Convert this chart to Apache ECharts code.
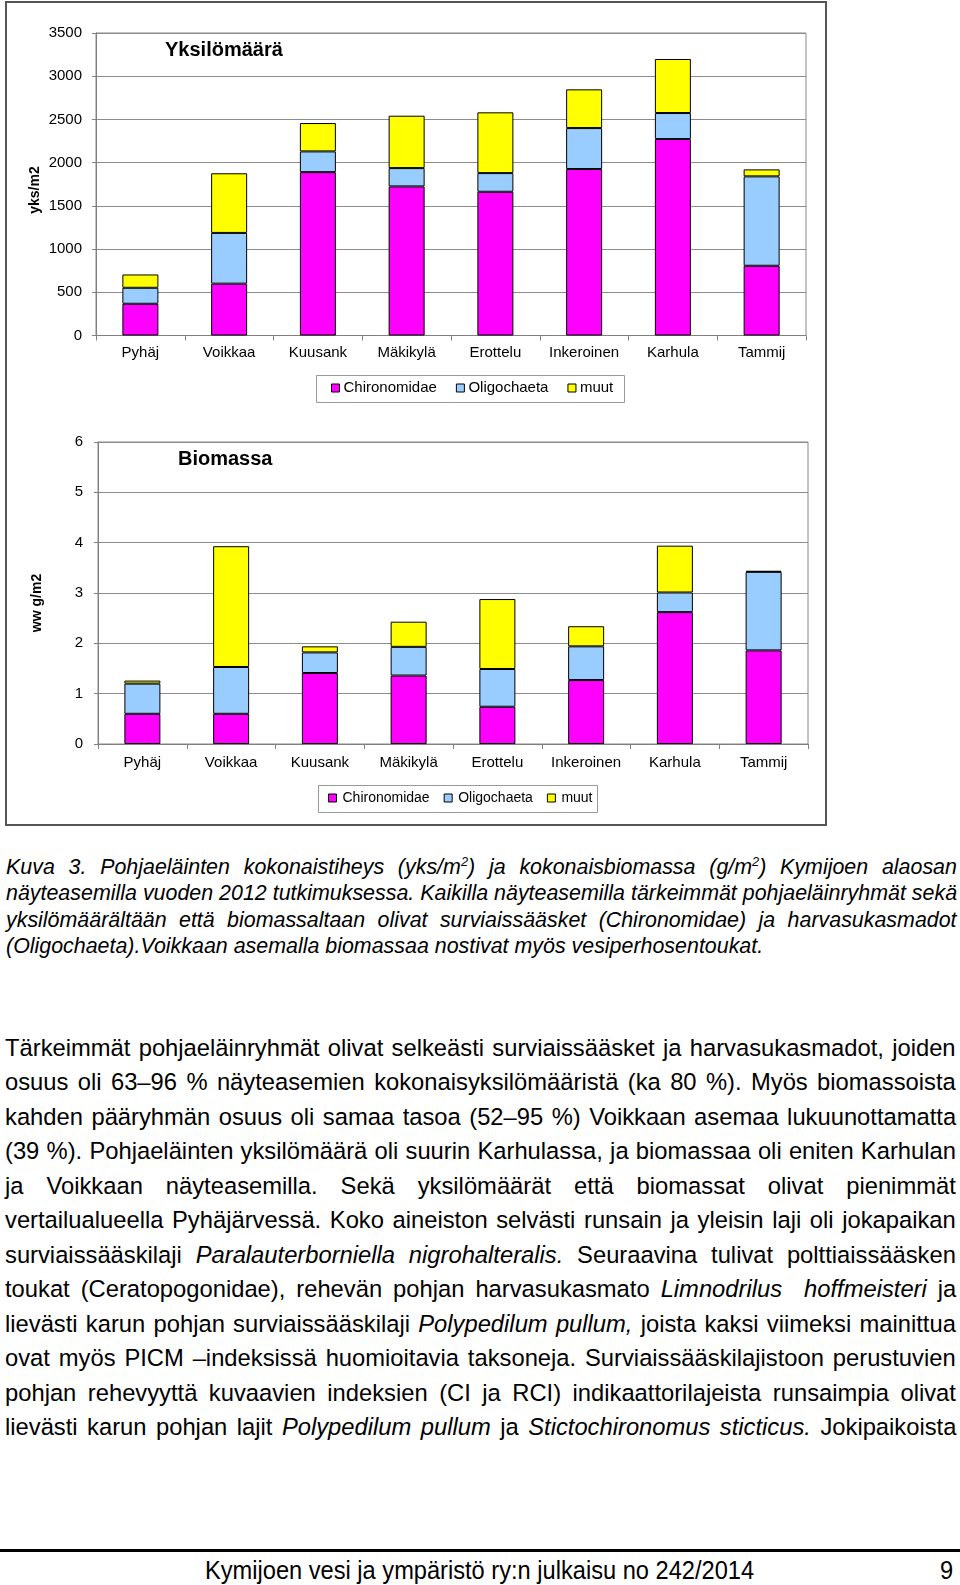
<!DOCTYPE html>
<html><head><meta charset="utf-8">
<script src="https://cdn.jsdelivr.net/npm/echarts@6/dist/echarts.min.js"></script>
<style>
html,body{margin:0;padding:0;background:#fff;width:960px;height:1585px;overflow:hidden;position:relative;}
#chart{position:absolute;left:0;top:0;width:960px;height:830px;}
.cap{position:absolute;left:6px;font-family:'Liberation Sans',Arial,sans-serif;font-style:italic;color:#000;white-space:nowrap;transform-origin:0 50%;}
.body{position:absolute;left:5px;font-family:'Liberation Sans',Arial,sans-serif;color:#000;white-space:nowrap;}
.foot{position:absolute;font-family:'Liberation Sans',Arial,sans-serif;color:#000;white-space:nowrap;transform-origin:0 50%;}
sup{font-size:0.6em;vertical-align:super;line-height:0;}
</style></head><body>
<div id="chart"></div>
<script>
// ---- data ----
const categories = ['Pyhäj','Voikkaa','Kuusank','Mäkikylä','Erottelu','Inkeroinen','Karhula','Tammij'];
const seriesNames = ['Chironomidae','Oligochaeta','muut'];
const countChiro = [367, 600, 1890, 1725, 1663, 1926, 2273, 807];
const countOligo = [185, 587, 240, 212, 216, 474, 301, 1034];
const countMuut  = [154, 690, 328, 606, 703, 448, 625, 81];
const bioChiro = [0.60, 0.60, 1.41, 1.36, 0.74, 1.27, 2.62, 1.86];
const bioOligo = [0.60, 0.93, 0.41, 0.57, 0.75, 0.67, 0.39, 1.56];
const bioMuut  = [0.06, 2.40, 0.12, 0.50, 1.39, 0.40, 0.93, 0.02];
const titles = ['Yksilömäärä','Biomassa'];
const yNames = ['yks/m2','ww g/m2'];

const captionLines = [
 'Kuva 3. Pohjaeläinten kokonaistiheys (yks/m<sup>2</sup>) ja kokonaisbiomassa (g/m<sup>2</sup>) Kymijoen alaosan',
 'näyteasemilla vuoden 2012 tutkimuksessa. Kaikilla näyteasemilla tärkeimmät pohjaeläinryhmät sekä',
 'yksilömäärältään että biomassaltaan olivat surviaissääsket (Chironomidae) ja harvasukasmadot',
 '(Oligochaeta).Voikkaan asemalla biomassaa nostivat myös vesiperhosentoukat.'
];
const bodyLines = [
 'Tärkeimmät pohjaeläinryhmät olivat selkeästi surviaissääsket ja harvasukasmadot, joiden',
 'osuus oli 63–96 % näyteasemien kokonaisyksilömääristä (ka 80 %). Myös biomassoista',
 'kahden pääryhmän osuus oli samaa tasoa (52–95 %) Voikkaan asemaa lukuunottamatta',
 '(39 %). Pohjaeläinten yksilömäärä oli suurin Karhulassa, ja biomassaa oli eniten Karhulan',
 'ja Voikkaan näyteasemilla. Sekä yksilömäärät että biomassat olivat pienimmät',
 'vertailualueella Pyhäjärvessä. Koko aineiston selvästi runsain ja yleisin laji oli jokapaikan',
 'surviaissääskilaji <i>Paralauterborniella nigrohalteralis.</i> Seuraavina tulivat polttiaissääsken',
 'toukat (Ceratopogonidae), rehevän pohjan harvasukasmato <i>Limnodrilus</i>&nbsp; <i>hoffmeisteri</i> ja',
 'lievästi karun pohjan surviaissääskilaji <i>Polypedilum pullum,</i> joista kaksi viimeksi mainittua',
 'ovat myös PICM –indeksissä huomioitavia taksoneja. Surviaissääskilajistoon perustuvien',
 'pohjan rehevyyttä kuvaavien indeksien (CI ja RCI) indikaattorilajeista runsaimpia olivat',
 'lievästi karun pohjan lajit <i>Polypedilum pullum</i> ja <i>Stictochironomus sticticus.</i> Jokipaikoista'
];
const footerText = 'Kymijoen vesi ja ympäristö ry:n julkaisu no 242/2014';
const pageNo = '9';

// ---- chart ----
const FF = "'Liberation Sans', Arial, sans-serif";
const colors = ['#ff00ff', '#99ccff', '#ffff00'];
const chart = echarts.init(document.getElementById('chart'), null, {renderer:'canvas'});

function xAx(gi, margin){
  return {type:'category', gridIndex:gi, data:categories,
    axisLine:{show:true, lineStyle:{color:'#808080', width:1}},
    axisTick:{show:true, length:5, alignWithLabel:false, lineStyle:{color:'#808080'}},
    axisLabel:{color:'#000', fontSize:15, fontFamily:FF, margin:margin, interval:0},
    splitLine:{show:false}};
}
function yAx(gi, max, interval, margin){
  return {type:'value', gridIndex:gi, min:0, max:max, interval:interval,
    axisLine:{show:true, lineStyle:{color:'#808080', width:1}},
    axisTick:{show:true, length:4, lineStyle:{color:'#808080'}},
    axisLabel:{color:'#000', fontSize:15, fontFamily:FF, margin:margin, formatter:(v)=>String(v)},
    splitLine:{show:true, lineStyle:{color:'#8c8c8c', width:1}}};
}
function bar(name, data, gi, stack, ci){
  return {type:'bar', name:name, data:data, xAxisIndex:gi, yAxisIndex:gi, stack:stack,
    barWidth:36, itemStyle:{color:colors[ci], borderColor:'#000', borderWidth:1},
    emphasis:{disabled:true}, animation:false};
}
const legendBase = {orient:'horizontal', icon:'rect', padding:0, itemWidth:8, itemHeight:8,
  itemStyle:{borderColor:'#000', borderWidth:1}, selectedMode:false, data:seriesNames};

chart.setOption({
  animation:false,
  title:[
    {text:titles[0], left:165, top:40, padding:0, textStyle:{fontSize:20, fontWeight:'bold', color:'#000', fontFamily:FF}},
    {text:titles[1], left:178, top:449, padding:0, textStyle:{fontSize:20, fontWeight:'bold', color:'#000', fontFamily:FF}}
  ],
  grid:[
    {left:96, top:33, width:710, height:302.5, show:true, borderColor:'#888', borderWidth:1, backgroundColor:'transparent'},
    {left:98, top:442, width:710, height:302, show:true, borderColor:'#888', borderWidth:1, backgroundColor:'transparent'}
  ],
  xAxis:[xAx(0, 10), xAx(1, 11)],
  yAxis:[yAx(0, 3500, 500, 14), yAx(1, 6, 1, 15)],
  legend:[
    Object.assign({}, legendBase, {left:331, top:380.5, itemGap:19, textStyle:{fontSize:15, fontFamily:FF, color:'#000', padding:[0,0,0,-1]}}),
    Object.assign({}, legendBase, {left:328, top:791, itemGap:14, textStyle:{fontSize:14, fontFamily:FF, color:'#000', padding:[0,0,0,1]}})
  ],
  graphic:[
    {type:'rect', z:-1, shape:{x:6, y:2, width:820, height:823}, style:{fill:'none', stroke:'#555', lineWidth:2}},
    {type:'rect', z:-1, shape:{x:316.5, y:375.5, width:308, height:27}, style:{fill:'#fff', stroke:'#999', lineWidth:1}},
    {type:'rect', z:-1, shape:{x:318.5, y:785.5, width:279, height:27}, style:{fill:'#fff', stroke:'#999', lineWidth:1}},
    {type:'text', x:35, y:190, rotation:Math.PI/2, style:{text:yNames[0], fontSize:14, fontWeight:'bold', fontFamily:FF, fill:'#000', align:'center', verticalAlign:'middle'}},
    {type:'text', x:37, y:603, rotation:Math.PI/2, style:{text:yNames[1], fontSize:14, fontWeight:'bold', fontFamily:FF, fill:'#000', align:'center', verticalAlign:'middle'}}
  ],
  series:[
    bar(seriesNames[0], countChiro, 0, 'c', 0),
    bar(seriesNames[1], countOligo, 0, 'c', 1),
    bar(seriesNames[2], countMuut, 0, 'c', 2),
    bar(seriesNames[0], bioChiro, 1, 'b', 0),
    bar(seriesNames[1], bioOligo, 1, 'b', 1),
    bar(seriesNames[2], bioMuut, 1, 'b', 2)
  ]
});

// ---- text ----
function measure(html, cls, fs){
  const s = document.createElement('span');
  s.className = cls; s.style.position='absolute'; s.style.left='-5000px'; s.style.top='0';
  s.style.fontSize = fs+'px'; s.style.transform='none'; s.innerHTML = html;
  document.body.appendChild(s);
  const w = s.offsetWidth;
  s.remove();
  return w;
}
function placeLines(lines, o){
  lines.forEach((html, i) => {
    const d = document.createElement('div');
    d.className = o.cls;
    d.style.fontSize = o.fs + 'px';
    d.style.top = (o.c0 + i*o.step - o.lh/2) + 'px';
    d.style.lineHeight = o.lh + 'px';
    d.style.height = o.lh + 'px';
    if (o.sx !== 1) d.style.transform = 'scaleX(' + o.sx + ')';
    const s = document.createElement('span');
    s.innerHTML = html;
    d.appendChild(s);
    document.body.appendChild(d);
    if (!(o.lastLeft && i === lines.length-1)) {
      const w = s.offsetWidth;
      const n = (s.textContent.match(/[ \u00a0]/g) || []).length;
      if (n) s.style.wordSpacing = ((o.width / o.sx - w) / n) + 'px';
    }
  });
}
// caption: narrow italic look (Liberation Sans horizontally condensed)
const capFs = 22;
const capSx = 757 / measure(captionLines[3], 'cap', capFs);
placeLines(captionLines, {cls:'cap', fs:capFs, sx:capSx, c0:867, step:26.3, lh:26, width:951, lastLeft:true});
// body: size so the longest natural line just fits the 951px measure
let maxW = 0;
bodyLines.forEach(l => { maxW = Math.max(maxW, measure(l, 'body', 21)); });
const bodyFs = Math.min(24, 21 * 945 / maxW);
placeLines(bodyLines, {cls:'body', fs:bodyFs, sx:1, c0:1047.7, step:34.5, lh:30, width:951, lastLeft:false});

// footer
const rule = document.createElement('div');
rule.style.cssText = 'position:absolute;left:0;top:1549px;width:960px;height:3px;background:#000;';
document.body.appendChild(rule);
const footFs = 26;
const footSx = 549 / measure(footerText, 'foot', footFs);
const f = document.createElement('div');
f.className = 'foot';
f.style.left = '205px'; f.style.top = (1570 - 15) + 'px'; f.style.lineHeight = '30px';
f.style.fontSize = footFs + 'px'; f.style.transform = 'scaleX(' + footSx + ')';
f.textContent = footerText;
document.body.appendChild(f);
const p = document.createElement('div');
p.className = 'foot';
p.style.left = '940px'; p.style.top = (1570 - 15) + 'px'; p.style.lineHeight = '30px';
p.style.fontSize = footFs + 'px'; p.style.transform = 'scaleX(' + footSx + ')';
p.textContent = pageNo;
document.body.appendChild(p);
</script>
</body></html>
